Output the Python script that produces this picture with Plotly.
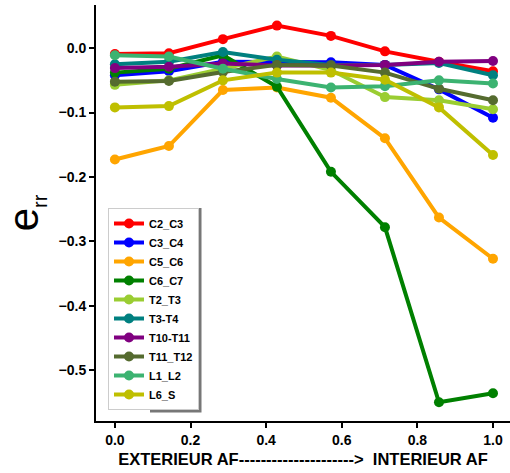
import plotly.graph_objects as go

x_vals = [0.0, 1/7, 2/7, 3/7, 4/7, 5/7, 6/7, 1.0]

series_names = ["C2_C3", "C3_C4", "C5_C6", "C6_C7", "T2_T3", "T3-T4",
                "T10-T11", "T11_T12", "L1_L2", "L6_S"]
series_colors = ["#ff0000", "#0000ff", "#ffa500", "#008000", "#9acd32",
                 "#008080", "#800080", "#556b2f", "#3cb371", "#bfbf00"]

c2_c3 = [-0.009, -0.008, 0.014, 0.035, 0.019, -0.005, -0.021, -0.036]
c3_c4 = [-0.042, -0.036, -0.021, -0.021, -0.022, -0.026, -0.064, -0.108]
c5_c6 = [-0.173, -0.152, -0.065, -0.061, -0.077, -0.140, -0.263, -0.327]
c6_c7 = [-0.038, -0.032, -0.011, -0.060, -0.192, -0.278, -0.550, -0.536]
t2_t3 = [-0.057, -0.050, -0.032, -0.013, -0.034, -0.076, -0.081, -0.095]
t3_t4 = [-0.025, -0.021, -0.006, -0.018, -0.026, -0.026, -0.023, -0.042]
t10_t11 = [-0.031, -0.029, -0.024, -0.027, -0.027, -0.026, -0.021, -0.020]
t11_t12 = [-0.052, -0.051, -0.037, -0.026, -0.027, -0.038, -0.063, -0.081]
l1_l2 = [-0.011, -0.013, -0.032, -0.048, -0.061, -0.059, -0.050, -0.055]
l6_s = [-0.092, -0.090, -0.050, -0.038, -0.038, -0.049, -0.092, -0.166]

all_series = [c2_c3, c3_c4, c5_c6, c6_c7, t2_t3, t3_t4, t10_t11, t11_t12, l1_l2, l6_s]

x_tick_vals = [0.0, 0.2, 0.4, 0.6, 0.8, 1.0]
x_tick_text = ["0.0", "0.2", "0.4", "0.6", "0.8", "1.0"]
y_tick_vals = [0.0, -0.1, -0.2, -0.3, -0.4, -0.5]
y_tick_text = ["0.0", "\u22120.1", "\u22120.2", "\u22120.3", "\u22120.4", "\u22120.5"]

fig = go.Figure()
for name, color, vals in zip(series_names, series_colors, all_series):
    fig.add_trace(go.Scatter(
        x=x_vals, y=vals, name=name, mode="lines+markers",
        line=dict(color=color, width=4),
        marker=dict(color=color, size=10),
    ))

font_family = "Liberation Sans, Arial, sans-serif"

# legend shadow (decorative), legend right edge at x=199, bottom at y=410
fig.add_shape(type="rect", xref="paper", yref="paper",
              x0=(150 - 96) / 414, x1=(201.5 - 96) / 414,
              y0=(421 - 412.5) / 416, y1=(421 - 208) / 416,
              fillcolor="#777777", line=dict(width=0), layer="above")

fig.update_layout(
    width=510, height=473,
    margin=dict(l=96, r=0, t=5, b=52),
    paper_bgcolor="white", plot_bgcolor="white",
    showlegend=True,
    legend=dict(
        x=(199 - 96) / 414, y=(421 - 410) / 416, xanchor="right", yanchor="bottom",
        bgcolor="white", bordercolor="#cccccc", borderwidth=1,
        font=dict(family=font_family, size=11, color="black", weight="bold"),
        itemwidth=30, tracegroupgap=0,
    ),
    xaxis=dict(
        range=[-0.05, 1.045], tickvals=x_tick_vals, ticktext=x_tick_text,
        automargin=False,
        showgrid=False, zeroline=False, showline=True, linecolor="black",
        linewidth=2, ticks="outside", ticklen=5, tickwidth=2, tickcolor="black",
        tickfont=dict(family=font_family, size=14, color="black", weight="bold"),
        title=dict(text="EXTERIEUR AF--------------------->\u00a0\u00a0INTERIEUR AF",
                   font=dict(family=font_family, size=16.5, color="black", weight="bold"),
                   standoff=7),
    ),
    yaxis=dict(
        range=[-0.579, 0.067], tickvals=y_tick_vals, ticktext=y_tick_text,
        automargin=False,
        showgrid=False, zeroline=False, showline=True, linecolor="black",
        linewidth=2, ticks="outside", ticklen=5, tickwidth=2, tickcolor="black",
        tickfont=dict(family=font_family, size=14, color="black", weight="bold"),
        title=dict(text="e<sub><span style='font-size:20px'>rr</span></sub>",
                   font=dict(family=font_family, size=42, color="black"),
                   standoff=24),
    ),
)

fig.write_html("out.html", post_script="document.body.style.margin='0';",
               config={"displayModeBar": False})
